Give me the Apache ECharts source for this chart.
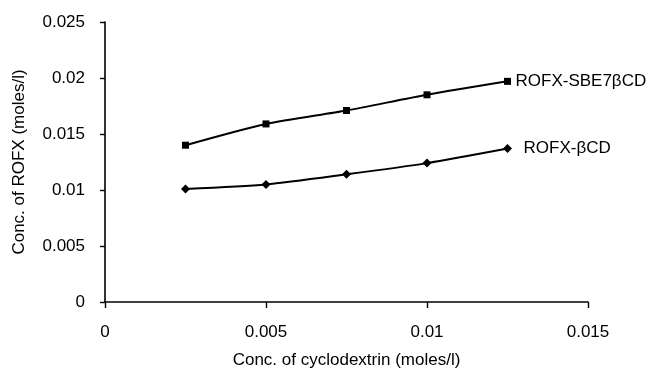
<!DOCTYPE html>
<html>
<head>
<meta charset="utf-8">
<script src="https://cdn.jsdelivr.net/npm/echarts@6/dist/echarts.min.js"></script>
<style>html,body{margin:0;padding:0;background:#fff;}#c{width:646px;height:374px;}</style>
</head>
<body>
<div id="c"></div>
<script>
const cyclodextrin = [0.0025, 0.005, 0.0075, 0.01, 0.0125];
const rofxSbe7bcd = [0.0140, 0.0159, 0.0171, 0.0185, 0.0197];
const rofxBcd = [0.0101, 0.0105, 0.0114, 0.0124, 0.0137];
const seriesNames = ['ROFX-SBE7\u03B2CD', 'ROFX-\u03B2CD'];
const xTitle = 'Conc. of cyclodextrin (moles/l)';
const yTitle = 'Conc. of ROFX (moles/l)';

const font = 'Liberation Sans, Arial, sans-serif';
const fs = 17;
const chart = echarts.init(document.getElementById('c'), null, {renderer: 'canvas'});
const pairs = (ys) => cyclodextrin.map((x, i) => [x, ys[i]]);
const axisCommon = {
  axisLine: {show: true, onZero: false, lineStyle: {color: '#000', width: 1.6}},
  axisTick: {show: true, inside: false, length: 5, lineStyle: {color: '#000', width: 1.4}},
  splitLine: {show: false},
  nameTextStyle: {color: '#000', fontFamily: font, fontSize: fs}
};
chart.setOption({
  backgroundColor: '#fff',
  animation: false,
  grid: {left: 105, right: 58, top: 22, bottom: 67, containLabel: false},
  xAxis: Object.assign({}, axisCommon, {
    type: 'value', min: 0, max: 0.015, interval: 0.005,
    name: xTitle, nameLocation: 'middle', nameGap: 50,
    axisTick: {show: true, length: 6, lineStyle: {color: '#000', width: 1.4}},
    axisLabel: {color: '#000', fontFamily: font, fontSize: fs, margin: 22}
  }),
  yAxis: Object.assign({}, axisCommon, {
    type: 'value', min: 0, max: 0.025, interval: 0.005,
    name: yTitle, nameLocation: 'middle', nameGap: 77, nameRotate: 90,
    axisLabel: {color: '#000', fontFamily: font, fontSize: fs, margin: 20}
  }),
  series: [
    {
      name: seriesNames[0], type: 'line', data: pairs(rofxSbe7bcd),
      smooth: 0.25, symbol: 'rect', symbolSize: 7,
      lineStyle: {color: '#000', width: 2}, itemStyle: {color: '#000'},
      endLabel: {show: true, formatter: '{a}', color: '#000', fontFamily: font, fontSize: fs, distance: 8}
    },
    {
      name: seriesNames[1], type: 'line', data: pairs(rofxBcd),
      smooth: 0.25, symbol: 'diamond', symbolSize: 9,
      lineStyle: {color: '#000', width: 2}, itemStyle: {color: '#000'},
      endLabel: {show: true, formatter: '{a}', color: '#000', fontFamily: font, fontSize: fs, distance: 16}
    }
  ]
});
</script>
</body>
</html>
